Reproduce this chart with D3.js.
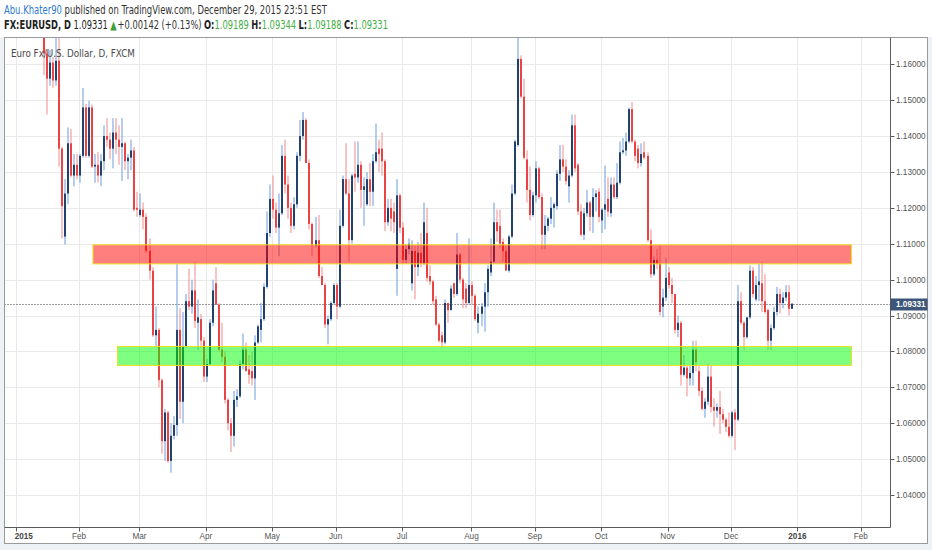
<!DOCTYPE html>
<html lang="en">
<head>
<meta charset="utf-8">
<title>EURUSD daily</title>
<script src="https://cdn.jsdelivr.net/npm/d3@7"></script>
<style>
  body { margin: 0; background: #eef1f5; }
  text { font-family: "Liberation Sans", Arial, sans-serif; }
  .hdr { font-family: "Liberation Sans Narrow", "DejaVu Sans Condensed", "Liberation Sans", sans-serif; white-space: pre; }
</style>
</head>
<body>
<div id="chart"></div>
<script>

// daily bars [open, high, low, close], one per trading day from 2 Jan 2015
var candles = [
  // Jan
  [1.2100,1.2110,1.2000,1.2005],[1.1950,1.1975,1.1860,1.1935],[1.1935,1.1960,1.1855,1.1890],
  [1.1890,1.1900,1.1800,1.1840],[1.1840,1.1850,1.1755,1.1790],[1.1790,1.1865,1.1760,1.1840],
  [1.1840,1.1870,1.1795,1.1830],[1.1830,1.1865,1.1765,1.1775],[1.1775,1.1815,1.1730,1.1780],
  [1.1780,1.1800,1.1570,1.1630],[1.1630,1.1640,1.1460,1.1560],[1.1560,1.1640,1.1540,1.1605],
  [1.1605,1.1620,1.1535,1.1555],[1.1555,1.1680,1.1540,1.1610],[1.1610,1.1680,1.1315,1.1365],
  [1.1365,1.1370,1.1115,1.1205],[1.1120,1.1280,1.1098,1.1240],[1.1240,1.1424,1.1210,1.1380],
  [1.1380,1.1420,1.1285,1.1290],[1.1290,1.1350,1.1260,1.1320],[1.1320,1.1350,1.1280,1.1290],
  // Feb
  [1.1290,1.1350,1.1270,1.1345],[1.1345,1.1534,1.1340,1.1480],[1.1480,1.1490,1.1340,1.1345],
  [1.1345,1.1498,1.1340,1.1480],[1.1480,1.1488,1.1311,1.1315],[1.1315,1.1350,1.1270,1.1320],
  [1.1320,1.1355,1.1270,1.1290],[1.1290,1.1350,1.1260,1.1330],[1.1330,1.1430,1.1305,1.1400],
  [1.1400,1.1450,1.1370,1.1390],[1.1390,1.1410,1.1335,1.1365],[1.1365,1.1450,1.1310,1.1410],
  [1.1410,1.1450,1.1350,1.1390],[1.1390,1.1430,1.1320,1.1370],[1.1370,1.1450,1.1275,1.1380],
  [1.1380,1.1385,1.1305,1.1330],[1.1330,1.1350,1.1280,1.1340],[1.1340,1.1390,1.1305,1.1360],
  [1.1360,1.1370,1.1190,1.1195],[1.1200,1.1245,1.1175,1.1195],
  // Mar
  [1.1180,1.1240,1.1175,1.1195],[1.1195,1.1215,1.1140,1.1175],[1.1175,1.1185,1.1075,1.1080],
  [1.1080,1.1115,1.1000,1.1025],[1.1025,1.1035,1.0840,1.0845],[1.0845,1.0925,1.0815,1.0860],
  [1.0860,1.0865,1.0700,1.0720],[1.0720,1.0725,1.0515,1.0550],[1.0550,1.0640,1.0495,1.0630],
  [1.0630,1.0635,1.0490,1.0495],[1.0495,1.0600,1.0462,1.0565],[1.0565,1.0620,1.0555,1.0595],
  [1.0595,1.1043,1.0565,1.0860],[1.0860,1.0920,1.0612,1.0660],[1.0660,1.0910,1.0600,1.0815],
  [1.0815,1.0960,1.0810,1.0940],[1.0940,1.1030,1.0915,1.0925],[1.0925,1.1000,1.0905,1.0970],
  [1.0970,1.1050,1.0865,1.0885],[1.0880,1.0945,1.0805,1.0895],[1.0890,1.0905,1.0810,1.0830],
  [1.0830,1.0840,1.0715,1.0730],
  // Apr
  [1.0730,1.0780,1.0715,1.0765],[1.0765,1.0890,1.0760,1.0880],[1.0880,1.1000,1.0870,1.0970],
  [1.0990,1.1035,1.0950,1.0930],[1.0930,1.0935,1.0800,1.0805],[1.0805,1.0880,1.0770,1.0785],
  [1.0785,1.0800,1.0655,1.0665],[1.0665,1.0670,1.0580,1.0600],[1.0600,1.0615,1.0520,1.0565],
  [1.0565,1.0690,1.0535,1.0665],[1.0665,1.0695,1.0645,1.0675],[1.0675,1.0775,1.0670,1.0765],
  [1.0765,1.0850,1.0750,1.0805],[1.0805,1.0825,1.0745,1.0745],[1.0750,1.0790,1.0710,1.0735],
  [1.0745,1.0800,1.0705,1.0725],[1.0725,1.0845,1.0665,1.0825],[1.0825,1.0875,1.0820,1.0870],
  [1.0860,1.0935,1.0825,1.0890],[1.0890,1.0990,1.0885,1.0980],[1.0980,1.1190,1.0975,1.1130],
  [1.1130,1.1265,1.1120,1.1225],
  // May
  [1.1225,1.1290,1.1170,1.1195],[1.1195,1.1215,1.1130,1.1145],[1.1145,1.1240,1.1065,1.1185],
  [1.1185,1.1375,1.1180,1.1345],[1.1345,1.1390,1.1240,1.1265],[1.1265,1.1290,1.1170,1.1200],
  [1.1200,1.1215,1.1130,1.1150],[1.1150,1.1230,1.1140,1.1210],[1.1210,1.1355,1.1200,1.1345],
  [1.1345,1.1445,1.1330,1.1400],[1.1400,1.1467,1.1390,1.1445],[1.1445,1.1450,1.1325,1.1325],
  [1.1325,1.1335,1.1140,1.1155],[1.1155,1.1160,1.1065,1.1095],[1.1095,1.1175,1.1090,1.1110],
  [1.1110,1.1180,1.1005,1.1010],[1.1010,1.1035,1.0985,1.0985],[1.0985,1.0990,1.0865,1.0875],
  [1.0875,1.0900,1.0820,1.0890],[1.0890,1.0940,1.0885,1.0935],[1.0935,1.0990,1.0930,1.0985],
  // Jun
  [1.0985,1.0990,1.0890,1.0925],[1.0925,1.1195,1.0920,1.1150],[1.1150,1.1290,1.1145,1.1280],
  [1.1280,1.1380,1.1235,1.1240],[1.1240,1.1280,1.1050,1.1110],[1.1110,1.1295,1.1100,1.1290],
  [1.1295,1.1385,1.1245,1.1285],[1.1285,1.1385,1.1270,1.1320],[1.1320,1.1330,1.1200,1.1250],
  [1.1250,1.1285,1.1150,1.1260],[1.1210,1.1300,1.1205,1.1280],[1.1280,1.1325,1.1205,1.1245],
  [1.1245,1.1350,1.1205,1.1330],[1.1330,1.1435,1.1325,1.1355],[1.1365,1.1390,1.1300,1.1350],
  [1.1365,1.1410,1.1290,1.1330],[1.1330,1.1335,1.1135,1.1160],[1.1160,1.1225,1.1150,1.1200],
  [1.1200,1.1225,1.1135,1.1170],[1.1190,1.1215,1.1130,1.1160],[1.1030,1.1280,1.0955,1.1235],
  [1.1235,1.1240,1.1130,1.1145],
  // Jul
  [1.1145,1.1160,1.1045,1.1055],[1.1055,1.1100,1.1045,1.1085],[1.1085,1.1115,1.1070,1.1100],
  [1.0990,1.1110,1.0970,1.1080],[1.1080,1.1095,1.0945,1.1035],[1.1035,1.1105,1.1010,1.1075],
  [1.1075,1.1130,1.1035,1.1045],[1.1045,1.1215,1.1040,1.1160],[1.1130,1.1200,1.0995,1.1005],
  [1.1010,1.1040,1.0985,1.0995],[1.0995,1.1000,1.0930,1.0940],[1.0945,1.0955,1.0870,1.0875],
  [1.0875,1.0880,1.0825,1.0830],[1.0845,1.0855,1.0810,1.0825],[1.0825,1.0945,1.0820,1.0935],
  [1.0935,1.0935,1.0880,1.0915],[1.0915,1.0985,1.0915,1.0975],[1.0990,1.0992,1.0950,1.0960],
  [1.0960,1.1130,1.0955,1.1070],[1.1070,1.1075,1.0990,1.1000],[1.1000,1.1005,1.0920,1.0945],
  [1.0975,1.0990,1.0920,1.0935],[1.0935,1.1115,1.0930,1.0985],
  // Aug
  [1.0985,1.0995,1.0930,1.0955],[1.0955,1.0960,1.0885,1.0890],[1.0880,1.0925,1.0850,1.0905],
  [1.0905,1.0935,1.0870,1.0925],[1.0925,1.0990,1.0855,1.0965],[1.0965,1.1040,1.0925,1.1030],
  [1.1020,1.1115,1.1010,1.1050],[1.1050,1.1215,1.1045,1.1160],[1.1160,1.1195,1.1105,1.1135],
  [1.1150,1.1195,1.1090,1.1100],[1.1105,1.1115,1.1050,1.1080],[1.1080,1.1095,1.1025,1.1025],
  [1.1025,1.1125,1.1020,1.1120],[1.1120,1.1265,1.1115,1.1240],[1.1240,1.1390,1.1235,1.1385],
  [1.1375,1.1715,1.1370,1.1615],[1.1615,1.1625,1.1505,1.1510],[1.1510,1.1560,1.1335,1.1340],
  [1.1335,1.1360,1.1215,1.1250],[1.1250,1.1315,1.1165,1.1180],[1.1180,1.1245,1.1175,1.1235],
  // Sep
  [1.1235,1.1330,1.1215,1.1310],[1.1310,1.1315,1.1225,1.1230],[1.1230,1.1240,1.1085,1.1125],
  [1.1125,1.1180,1.1085,1.1150],[1.1150,1.1175,1.1135,1.1170],[1.1170,1.1230,1.1155,1.1200],
  [1.1200,1.1215,1.1145,1.1210],[1.1205,1.1305,1.1195,1.1295],[1.1295,1.1375,1.1275,1.1335],
  [1.1335,1.1375,1.1300,1.1315],[1.1315,1.1335,1.1265,1.1275],[1.1260,1.1305,1.1215,1.1290],
  [1.1290,1.1460,1.1285,1.1430],[1.1430,1.1460,1.1300,1.1310],[1.1320,1.1325,1.1180,1.1190],
  [1.1190,1.1210,1.1120,1.1125],[1.1125,1.1200,1.1110,1.1185],[1.1185,1.1250,1.1175,1.1215],
  [1.1215,1.1220,1.1135,1.1175],[1.1175,1.1255,1.1130,1.1230],[1.1230,1.1250,1.1190,1.1240],
  [1.1245,1.1255,1.1160,1.1175],
  // Oct
  [1.1165,1.1200,1.1130,1.1195],[1.1195,1.1318,1.1140,1.1210],[1.1225,1.1285,1.1175,1.1190],
  [1.1185,1.1285,1.1175,1.1265],[1.1265,1.1285,1.1225,1.1230],[1.1230,1.1325,1.1225,1.1270],
  [1.1270,1.1385,1.1265,1.1355],[1.1355,1.1395,1.1350,1.1360],[1.1360,1.1410,1.1345,1.1385],
  [1.1385,1.1480,1.1380,1.1475],[1.1475,1.1495,1.1380,1.1385],[1.1385,1.1390,1.1330,1.1345],
  [1.1365,1.1375,1.1310,1.1325],[1.1325,1.1380,1.1315,1.1350],[1.1355,1.1385,1.1335,1.1340],
  [1.1345,1.1355,1.1105,1.1110],[1.1110,1.1140,1.1005,1.1015],[1.1015,1.1065,1.1010,1.1055],
  [1.1055,1.1085,1.1030,1.1045],[1.1045,1.1095,1.0900,1.0910],[1.0925,1.0975,1.0895,1.0950],
  [1.0950,1.1060,1.0940,1.1005],
  // Nov
  [1.1020,1.1035,1.0975,1.0985],[1.0985,1.1005,1.0935,1.0960],[1.0960,1.0960,1.0850,1.0860],
  [1.0860,1.0900,1.0840,1.0880],[1.0880,1.0885,1.0705,1.0735],[1.0735,1.0790,1.0730,1.0755],
  [1.0755,1.0760,1.0675,1.0725],[1.0725,1.0760,1.0705,1.0740],[1.0740,1.0830,1.0705,1.0805],
  [1.0805,1.0830,1.0745,1.0770],[1.0745,1.0760,1.0675,1.0690],[1.0690,1.0700,1.0635,1.0640],
  [1.0640,1.0670,1.0615,1.0660],[1.0660,1.0765,1.0650,1.0730],[1.0730,1.0760,1.0630,1.0645],
  [1.0645,1.0670,1.0590,1.0635],[1.0635,1.0655,1.0615,1.0645],[1.0645,1.0690,1.0570,1.0625],
  [1.0625,1.0640,1.0600,1.0610],[1.0610,1.0615,1.0575,1.0590],[1.0590,1.0630,1.0560,1.0565],
  // Dec
  [1.0565,1.0635,1.0560,1.0630],[1.0630,1.0640,1.0525,1.0610],[1.0610,1.0985,1.0605,1.0940],
  [1.0940,1.0965,1.0875,1.0880],[1.0880,1.0885,1.0805,1.0840],[1.0840,1.0895,1.0835,1.0895],
  [1.0895,1.1040,1.0890,1.1025],[1.1025,1.1035,1.0950,1.0960],[1.0945,1.1010,1.0940,1.0985],
  [1.0985,1.1045,1.0940,1.0995],[1.0990,1.1050,1.0910,1.0940],[1.0940,1.1015,1.0905,1.0910],
  [1.0915,1.0920,1.0805,1.0830],[1.0830,1.0875,1.0805,1.0865],[1.0865,1.0925,1.0860,1.0910],
  [1.0910,1.0980,1.0900,1.0960],[1.0960,1.0975,1.0905,1.0935],[1.0935,1.0965,1.0920,1.0950],
  [1.0950,1.0985,1.0940,1.0965],[1.0965,1.0985,1.0900,1.09189],[1.09189,1.09344,1.09188,1.09331]
];

// days with no bar
var holidays = ["2015-12-25"];

// price levels on the right scale
var priceTicks = [1.04, 1.05, 1.06, 1.07, 1.08, 1.09, 1.10, 1.11, 1.12, 1.13, 1.14, 1.15, 1.16];

// drawn zones: bar index range and price range
var zoneFrom   = [25.6, 33.7];
var zoneTo     = [276.9, 276.9];
var zoneTop    = [1.1097, 1.0814];
var zoneBottom = [1.1044, 1.0761];

var symbolTitle = "Euro Fx/U.S. Dollar, D, FXCM";
var author = "Abu.Khater90";
var published = " published on TradingView.com, December 29, 2015 23:51 EST";
var symbolLine = "FX:EURUSD, D";
var lastChange = ["1.09331", "+0.00142 (+0.13%)"];
var ohlcLabels = ["O:", "H:", "L:", "C:"];
var ohlcValues = ["1.09189", "1.09344", "1.09188", "1.09331"];

// layout
var width = 932, height = 550;
var pane = {left: 4.5, top: 37.5, right: 890.5, bottom: 527.5};
var frameRight = 927.5, frameBottom = 543.5;

var upBody = "#21416f", upWick = "#6f9ddb",
    downBody = "#ea4343", downWick = "#f08b8b",
    zoneFill = ["#ff0000", "#00ff00"];

// trading days (weekdays minus holidays), extended into 2016 for the time scale
var fmtDay = d3.timeFormat("%Y-%m-%d");
var days = d3.timeDays(new Date(2015, 0, 2), new Date(2016, 1, 20))
    .filter(function(d) { return d.getDay() !== 0 && d.getDay() !== 6 && holidays.indexOf(fmtDay(d)) < 0; });

var x = d3.scaleLinear().domain([0, 280]).range([15.7, 860.8]);
var y = d3.scaleLinear().domain([1.04, 1.16]).range([495.0, 64.3]);

var svg = d3.select("#chart").append("svg")
    .attr("width", width)
    .attr("height", height);

svg.append("rect").attr("width", width).attr("height", height).attr("fill", "#eef1f5");
svg.append("rect").attr("width", width).attr("height", 37).attr("fill", "#ffffff");
svg.append("rect")
    .attr("x", pane.left).attr("y", pane.top)
    .attr("width", frameRight - pane.left).attr("height", frameBottom - pane.top)
    .attr("fill", "#ffffff");

svg.append("clipPath").attr("id", "paneClip")
  .append("rect")
    .attr("x", pane.left).attr("y", pane.top)
    .attr("width", pane.right - pane.left).attr("height", pane.bottom - pane.top);

// month ticks from the trading days
var timeTicks = [];
days.forEach(function(d, i) {
    if (i === 0 || d.getMonth() !== days[i - 1].getMonth()) {
        timeTicks.push({i: i, year: d.getMonth() === 0,
            label: d.getMonth() === 0 ? d3.timeFormat("%Y")(d) : d3.timeFormat("%b")(d)});
    }
});
timeTicks = timeTicks.filter(function(t) { return x(t.i) < pane.right; });

// grid
var grid = svg.append("g").attr("clip-path", "url(#paneClip)");
grid.selectAll("line.v").data(timeTicks).enter().append("line")
    .attr("x1", function(t) { return Math.round(x(t.i)) + 0.5; })
    .attr("x2", function(t) { return Math.round(x(t.i)) + 0.5; })
    .attr("y1", pane.top).attr("y2", pane.bottom)
    .attr("stroke", "#e9e9e9");
grid.selectAll("line.h").data(priceTicks).enter().append("line")
    .attr("x1", pane.left).attr("x2", pane.right)
    .attr("y1", function(p) { return Math.round(y(p)) + 0.5; })
    .attr("y2", function(p) { return Math.round(y(p)) + 0.5; })
    .attr("stroke", "#e9e9e9");

// last price dotted line
var last = candles[candles.length - 1][3];
grid.append("line")
    .attr("x1", pane.left).attr("x2", pane.right)
    .attr("y1", Math.round(y(last)) + 0.5).attr("y2", Math.round(y(last)) + 0.5)
    .attr("stroke", "#3a3a3a").attr("stroke-dasharray", "1,2");

// candles
var bars = svg.append("g").attr("clip-path", "url(#paneClip)");
bars.selectAll("rect.wick").data(candles).enter().append("rect")
    .attr("x", function(d, i) { return Math.round(x(i)) + 0.5; })
    .attr("width", 1)
    .attr("y", function(d) { return y(d[1]); })
    .attr("height", function(d) { return y(d[2]) - y(d[1]); })
    .attr("fill", function(d) { return d[3] >= d[0] ? upWick : downWick; });
bars.selectAll("rect.body").data(candles).enter().append("rect")
    .attr("x", function(d, i) { return Math.round(x(i)); })
    .attr("width", 2)
    .attr("y", function(d) { return y(Math.max(d[0], d[3])); })
    .attr("height", function(d) { return Math.max(1, Math.abs(y(d[0]) - y(d[3]))); })
    .attr("fill", function(d) { return d[3] >= d[0] ? upBody : downBody; });

// zones, half transparent over the bars
var zoneG = svg.append("g").attr("clip-path", "url(#paneClip)");
zoneTop.forEach(function(top, k) {
    zoneG.append("rect")
        .attr("x", x(zoneFrom[k])).attr("y", y(top))
        .attr("width", x(zoneTo[k]) - x(zoneFrom[k]))
        .attr("height", y(zoneBottom[k]) - y(top))
        .attr("fill", zoneFill[k]).attr("fill-opacity", 0.5)
        .attr("stroke", "#f2dc20").attr("stroke-width", 1);
});

// frame and axis lines
svg.append("rect")
    .attr("x", pane.left).attr("y", pane.top)
    .attr("width", frameRight - pane.left).attr("height", frameBottom - pane.top)
    .attr("fill", "none").attr("stroke", "#9a9a9a");
svg.append("line")
    .attr("x1", pane.right).attr("x2", pane.right)
    .attr("y1", pane.top).attr("y2", pane.bottom)
    .attr("stroke", "#5a5a5a");
svg.append("line")
    .attr("x1", pane.left).attr("x2", pane.right)
    .attr("y1", pane.bottom).attr("y2", pane.bottom)
    .attr("stroke", "#5a5a5a");

// price scale
var yAxis = svg.append("g");
yAxis.selectAll("line").data(priceTicks).enter().append("line")
    .attr("x1", pane.right).attr("x2", pane.right + 4)
    .attr("y1", function(p) { return Math.round(y(p)) + 0.5; })
    .attr("y2", function(p) { return Math.round(y(p)) + 0.5; })
    .attr("stroke", "#5a5a5a");
yAxis.selectAll("text").data(priceTicks).enter().append("text")
    .attr("x", pane.right + 5.5)
    .attr("y", function(p) { return y(p) + 3; })
    .attr("font-size", 8.2)
    .attr("fill", "#555")
    .text(d3.format(".5f"));

// last price label
svg.append("rect")
    .attr("x", pane.right).attr("y", Math.round(y(last)) - 5.5)
    .attr("width", frameRight - pane.right).attr("height", 12)
    .attr("fill", "#3d5677");
svg.append("text")
    .attr("x", pane.right + 5.5).attr("y", y(last) + 3.3)
    .attr("font-size", 8.2).attr("font-weight", "bold")
    .attr("fill", "#ffffff")
    .text(d3.format(".5f")(last));

// time scale
var xAxis = svg.append("g");
xAxis.selectAll("line").data(timeTicks).enter().append("line")
    .attr("x1", function(t) { return Math.round(x(t.i)) + 0.5; })
    .attr("x2", function(t) { return Math.round(x(t.i)) + 0.5; })
    .attr("y1", pane.bottom).attr("y2", pane.bottom + 4)
    .attr("stroke", "#5a5a5a");
xAxis.selectAll("text").data(timeTicks).enter().append("text")
    .attr("x", function(t) { return x(t.i); })
    .attr("y", 539)
    .attr("text-anchor", function(t, i) { return i === 0 ? "start" : "middle"; })
    .attr("dx", function(t, i) { return i === 0 ? -1 : 0; })
    .attr("font-size", 8.2)
    .attr("font-weight", function(t) { return t.year ? "bold" : "normal"; })
    .attr("fill", function(t) { return t.year ? "#444" : "#555"; })
    .text(function(t) { return t.label; });

// a row of text pieces laid side by side, then squeezed to the wanted width
function textRow(left, baseline, size, pieces, wanted) {
    var g = svg.append("g");
    var cx = 0;
    pieces.forEach(function(p) {
        var t = g.append("text")
            .attr("class", "hdr")
            .attr("x", cx).attr("y", baseline)
            .attr("font-size", size)
            .attr("font-weight", p.bold ? "bold" : "normal")
            .attr("fill", p.color)
            .text(p.text);
        cx += t.node().getComputedTextLength() + (p.gap || 0);
    });
    g.attr("transform", "translate(" + left + ",0) scale(" + (wanted / cx) + ",1)");
}

// symbol title inside the pane
textRow(11, 57.5, 11, [{text: symbolTitle, color: "#4a4a4a"}], 124);

// header lines
textRow(4, 14.5, 11.5, [
    {text: author, color: "#2d7bcf"},
    {text: published, color: "#333"}
], 323);

var green = "#45ad45";
var row2 = [
    {text: symbolLine, color: "#222", bold: true, gap: 3},
    {text: lastChange[0], color: "#222", gap: 3},
    {text: "▲", color: "#3aa03a", gap: 1},
    {text: lastChange[1], color: "#333", gap: 3}
];
ohlcLabels.forEach(function(l, k) {
    row2.push({text: l, color: "#222", bold: true});
    row2.push({text: ohlcValues[k], color: green, gap: k < 3 ? 3 : 0});
});
textRow(4, 29.5, 11.5, row2, 384);

</script>
</body>
</html>
